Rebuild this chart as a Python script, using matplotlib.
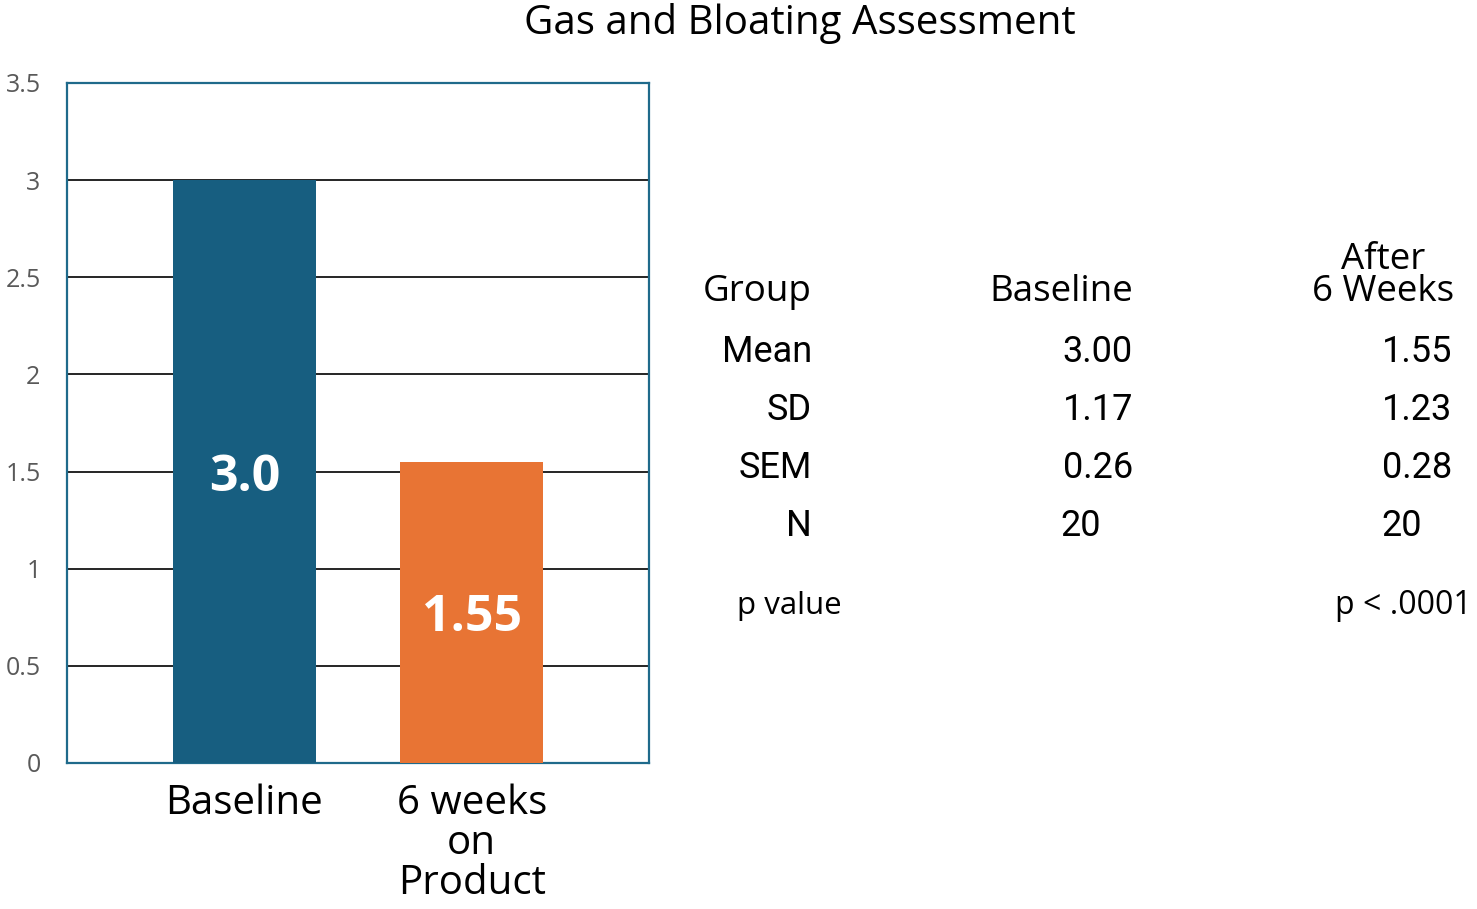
import matplotlib.pyplot as plt

# data
groups = ["Baseline", "6 weeks\non\nProduct"]
means = [3.0, 1.55]
bar_labels = ["3.0", "1.55"]
bar_colors = ["#175E80", "#E87434"]
yticks = [0, 0.5, 1, 1.5, 2, 2.5, 3, 3.5]
ytick_labels = ["0", "0.5", "1", "1.5", "2", "2.5", "3", "3.5"]

row_names = ["Mean", "SD", "SEM", "N"]
baseline_stats = ["3.00", "1.17", "0.26", "20"]
after_stats = ["1.55", "1.23", "0.28", "20"]
p_text = "p < .0001"

W, H = 1477, 909
fig = plt.figure(figsize=(W / 100, H / 100), dpi=100)
ax = fig.add_axes([67 / W, 1 - 763 / H, (649 - 67) / W, (763 - 83) / H])

x = [0, 1]
ax.bar(x, means, width=0.63, color=bar_colors, zorder=3)
for xi, m, lab in zip(x, means, bar_labels):
    ax.text(xi, m / 2, lab, ha="center", va="center_baseline", color="white",
            fontsize=36, fontweight="bold", family="Open Sans", zorder=4)

ax.set_xlim(-0.78, 1.78)
ax.set_ylim(0, 3.5)
ax.set_yticks(yticks)
ax.set_yticklabels(ytick_labels, fontsize=18, color="#595959", family="Open Sans")
ax.set_xticks(x)
ax.set_xticklabels(groups, fontsize=29, family="Open Sans", linespacing=0.98)
ax.tick_params(axis="both", length=0)
ax.tick_params(axis="y", pad=19)
ax.tick_params(axis="x", pad=15)
for y in yticks[1:-1]:
    ax.axhline(y, color="black", lw=1.2, zorder=2)
for s in ax.spines.values():
    s.set_color("#1F6A8B")
    s.set_linewidth(1.6)

fig.text(800 / W, 1 - 24 / H, "Gas and Bloating Assessment", ha="center", va="center",
         fontsize=29, family="Open Sans")


def fx(px):
    return px / W


def fy(py):
    return 1 - py / H


tfont = dict(family="Roboto", fontstretch="condensed", fontsize=26)
hfont = dict(family="Open Sans", fontsize=26.5)

fig.text(fx(812), fy(292), "Group", ha="right", va="center", **hfont)
fig.text(fx(1133), fy(292), "Baseline", ha="right", va="center", **hfont)
fig.text(fx(1383), fy(276), "After\n6 Weeks", ha="center", va="center",
         linespacing=0.85, **hfont)

row_y = [352, 410, 468, 526]
for name, b, a, ry in zip(row_names, baseline_stats, after_stats, row_y):
    fig.text(fx(812), fy(ry), name, ha="right", va="center", **tfont)
    if name == "N":
        fig.text(fx(1060), fy(ry), b, ha="left", va="center", **tfont)
        fig.text(fx(1381), fy(ry), a, ha="left", va="center", **tfont)
    else:
        fig.text(fx(1133), fy(ry), b, ha="right", va="center", **tfont)
        fig.text(fx(1452), fy(ry), a, ha="right", va="center", **tfont)

fig.text(fx(737), fy(606), "p value", ha="left", va="center", family="Open Sans", fontsize=22.5)
fig.text(fx(1472), fy(606), p_text, ha="right", va="center", family="Open Sans", fontsize=23)

fig.savefig("out.png", dpi=100)
